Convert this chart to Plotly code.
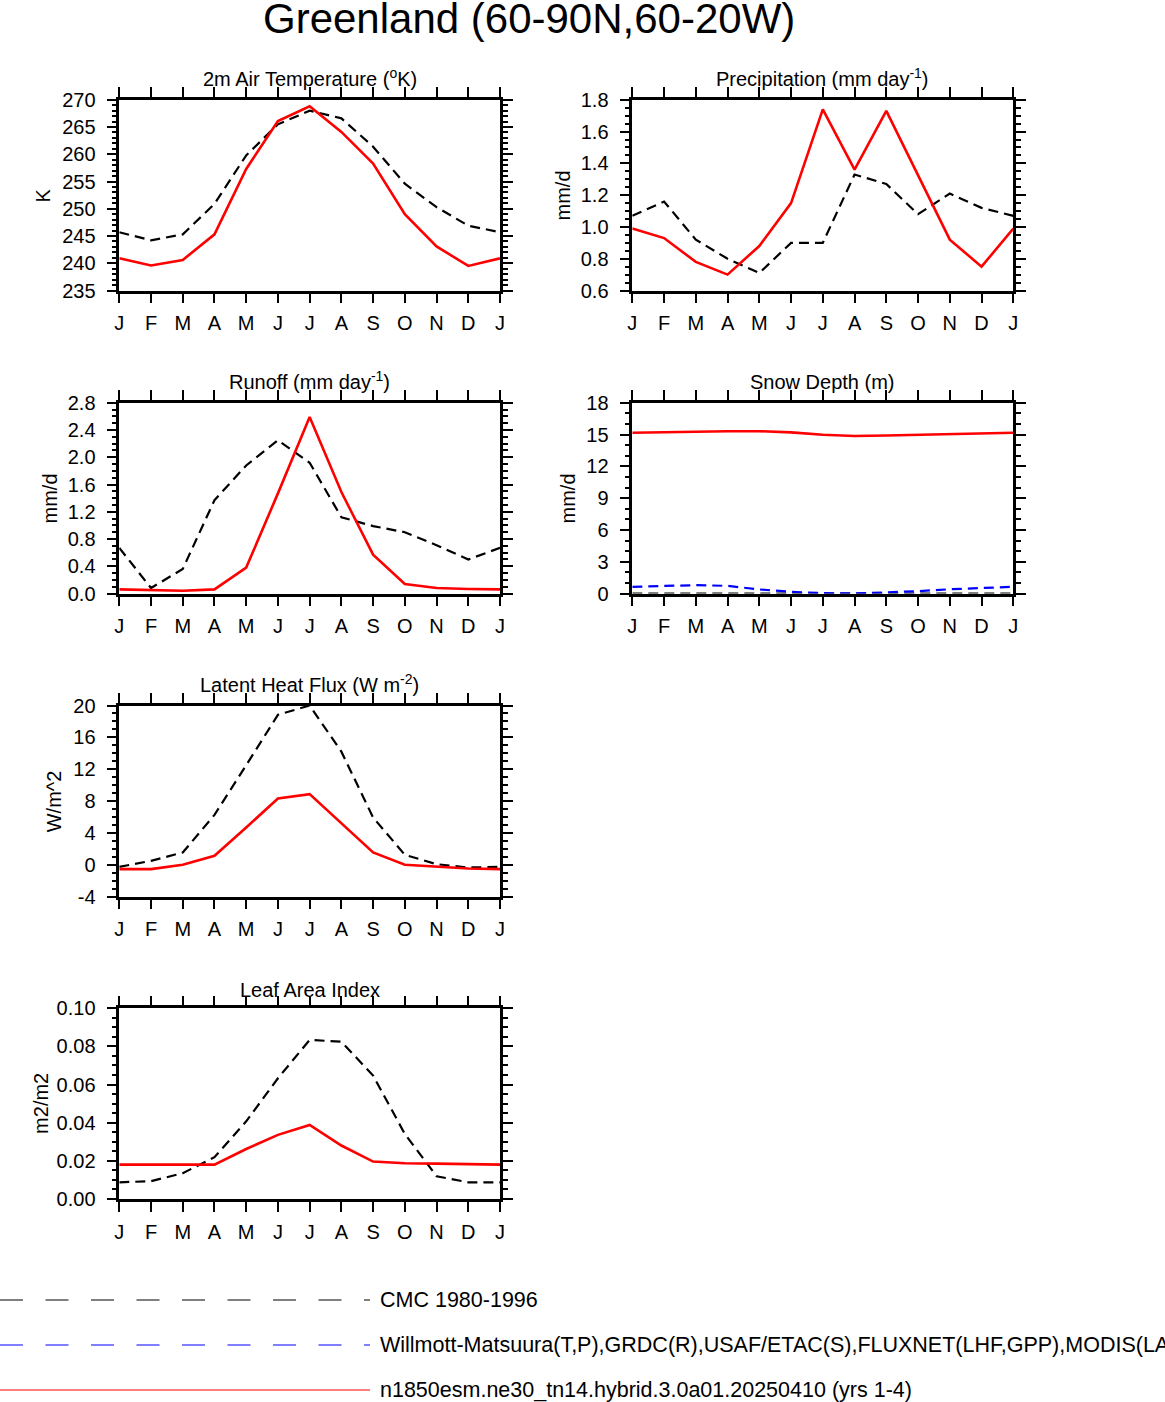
import plotly.graph_objects as go
from plotly.subplots import make_subplots

# month axis
months = ["J", "F", "M", "A", "M", "J", "J", "A", "S", "O", "N", "D", "J"]
month_pos = list(range(13))

# 2m air temperature (K)
tsa_model = [240.9, 239.6, 240.6, 245.3, 257.3, 266.1, 268.8, 264.1, 258.3, 249.0, 243.1, 239.5, 240.9]
tsa_obs = [245.7, 244.2, 245.3, 250.9, 259.8, 265.5, 268.0, 266.6, 261.4, 254.6, 250.3, 246.9, 245.7]
tsa_ticks = [235, 240, 245, 250, 255, 260, 265, 270]

# precipitation (mm/d)
prec_model = [0.99, 0.93, 0.78, 0.70, 0.88, 1.15, 1.74, 1.36, 1.73, 1.33, 0.92, 0.75, 0.99]
prec_obs = [1.07, 1.16, 0.92, 0.80, 0.71, 0.90, 0.90, 1.33, 1.27, 1.08, 1.21, 1.12, 1.07]
prec_ticks = [0.6, 0.8, 1.0, 1.2, 1.4, 1.6, 1.8]

# runoff (mm/d)
runoff_model = [0.06, 0.05, 0.04, 0.06, 0.38, 1.47, 2.59, 1.49, 0.57, 0.14, 0.08, 0.065, 0.06]
runoff_obs = [0.67, 0.08, 0.36, 1.37, 1.88, 2.25, 1.92, 1.12, 0.99, 0.90, 0.71, 0.50, 0.67]
runoff_ticks = [0.0, 0.4, 0.8, 1.2, 1.6, 2.0, 2.4, 2.8]

# snow depth (m)
snow_model = [15.18, 15.24, 15.27, 15.32, 15.32, 15.21, 14.99, 14.86, 14.92, 14.99, 15.05, 15.11, 15.18]
snow_obs = [0.63, 0.70, 0.79, 0.72, 0.38, 0.16, 0.04, 0.0, 0.10, 0.22, 0.40, 0.52, 0.63]
snow_cmc = [0.0, 0.0, 0.0, 0.0, 0.0, 0.0, 0.0, 0.0, 0.0, 0.0, 0.0, 0.0, 0.0]
snow_ticks = [0, 3, 6, 9, 12, 15, 18]

# latent heat flux (W/m^2)
lhf_model = [-0.56, -0.56, -0.02, 1.11, 4.67, 8.31, 8.86, 5.21, 1.53, -0.02, -0.27, -0.48, -0.56]
lhf_obs = [-0.27, 0.48, 1.53, 6.26, 12.5, 18.83, 20.0, 14.2, 5.93, 1.24, 0.06, -0.36, -0.27]
lhf_ticks = [-4, 0, 4, 8, 12, 16, 20]

# leaf area index (m2/m2)
lai_model = [0.0180, 0.0180, 0.0178, 0.0180, 0.0262, 0.0336, 0.0388, 0.0280, 0.0196, 0.0187, 0.0185, 0.0182, 0.0180]
lai_obs = [0.0087, 0.0093, 0.0135, 0.0219, 0.0407, 0.0633, 0.0834, 0.0825, 0.0647, 0.0341, 0.0119, 0.0087, 0.0087]
lai_ticks = [0.00, 0.02, 0.04, 0.06, 0.08, 0.10]

legend_names = [
    "CMC 1980-1996",
    "Willmott-Matsuura(T,P),GRDC(R),USAF/ETAC(S),FLUXNET(LHF,GPP),MODIS(LAI)",
    "n1850esm.ne30_tn14.hybrid.3.0a01.20250410 (yrs 1-4)",
]

FONT = "Liberation Sans, Arial, Helvetica, sans-serif"

W, H = 1165, 1402


def px(x):
    return x / W


def py(y):
    return 1 - y / H


panels = [
    dict(title="2m Air Temperature (<sup>o</sup>K)", ytitle="K", model=tsa_model,
         obs=[(tsa_obs, "black")], ticks=tsa_ticks, fmt="{:d}", minor=1, tshift=22, yshift_title=-76),
    dict(title="Precipitation (mm day<sup>-1</sup>)", ytitle="mm/d", model=prec_model,
         obs=[(prec_obs, "black")], ticks=prec_ticks, fmt="{:.1f}", minor=0.05, tshift=22, yshift_title=-69),
    dict(title="Runoff (mm day<sup>-1</sup>)", ytitle="mm/d", model=runoff_model,
         obs=[(runoff_obs, "black")], ticks=runoff_ticks, fmt="{:.1f}", minor=0.1, tshift=22, yshift_title=-69),
    dict(title="Snow Depth (m)", ytitle="mm/d", model=snow_model,
         obs=[(snow_cmc, "black"), (snow_obs, "blue")], ticks=snow_ticks, fmt="{:d}", minor=1, tshift=21, yshift_title=-64),
    dict(title="Latent Heat Flux (W m<sup>-2</sup>)", ytitle="W/m^2", model=lhf_model,
         obs=[(lhf_obs, "black")], ticks=lhf_ticks, fmt="{:d}", minor=1, tshift=22, yshift_title=-65),
    dict(title="Leaf Area Index", ytitle="m2/m2", model=lai_model,
         obs=[(lai_obs, "black")], ticks=lai_ticks, fmt="{:.2f}", minor=0.005, tshift=18, yshift_title=-79),
]

cells = [(1, 1), (1, 2), (2, 1), (2, 2), (3, 1), (4, 1)]
x_domains = {1: [px(119.3), px(500.0)], 2: [px(632.3), px(1013.3)]}
y_domains = {1: [py(290.5), py(99.8)], 2: [py(593.5), py(402.8)],
             3: [py(896.5), py(705.5)], 4: [py(1198.9), py(1008.3)]}

fig = make_subplots(rows=4, cols=2, specs=[[{}, {}], [{}, {}], [{}, None], [{}, None]])

annotations = []
for n, (p, (r, c)) in enumerate(zip(panels, cells), start=1):
    for vals, col in p["obs"]:
        fig.add_trace(go.Scatter(x=month_pos, y=vals, mode="lines",
                                 line=dict(color=col, width=2.2, dash="10px,6px"),
                                 showlegend=False), row=r, col=c)
    fig.add_trace(go.Scatter(x=month_pos, y=p["model"], mode="lines",
                             line=dict(color="red", width=2.6), showlegend=False), row=r, col=c)

    sfx = "" if n == 1 else str(n)
    fig.update_layout({
        "xaxis" + sfx: dict(domain=x_domains[c], range=[0, 12], tickmode="array",
                            tickvals=month_pos, ticktext=months, ticks="outside",
                            ticklen=10, tickwidth=2, tickcolor="black",
                            showline=True, linewidth=2.5, linecolor="black", mirror="ticks",
                            showgrid=False, zeroline=False, ticklabelstandoff=3,
                            tickfont=dict(size=20, family=FONT, color="black")),
        "yaxis" + sfx: dict(domain=y_domains[r], range=[p["ticks"][0], p["ticks"][-1]],
                            tickmode="array", tickvals=p["ticks"],
                            ticktext=[p["fmt"].format(v) for v in p["ticks"]],
                            ticks="outside", ticklen=10, tickwidth=2, tickcolor="black",
                            minor=dict(tick0=p["ticks"][0], dtick=p["minor"], ticks="outside",
                                       ticklen=5, tickwidth=1.5, tickcolor="black", showgrid=False),
                            showline=True, linewidth=2.5, linecolor="black", mirror="ticks",
                            showgrid=False, zeroline=False, ticklabelstandoff=7,
                            tickfont=dict(size=20, family=FONT, color="black")),
    })
    xr = "x domain" if n == 1 else f"x{n} domain"
    yr = "y domain" if n == 1 else f"y{n} domain"
    annotations.append(dict(text=p["title"], xref=xr, yref=yr, x=0.5, y=1, yshift=p["tshift"],
                            xanchor="center", yanchor="middle", showarrow=False,
                            font=dict(size=20, family=FONT, color="black")))
    annotations.append(dict(text=p["ytitle"], xref=xr, yref=yr, x=0, y=0.5, xshift=p["yshift_title"],
                            textangle=-90, xanchor="center", yanchor="middle", showarrow=False,
                            font=dict(size=20, family=FONT, color="black")))

# main title
annotations.append(dict(text="Greenland (60-90N,60-20W)", xref="paper", yref="paper",
                        x=px(529), y=py(19), xanchor="center", yanchor="middle",
                        showarrow=False, font=dict(size=42, family=FONT, color="black")))

# legend at the bottom (drawn by hand like NCL's)
shapes = []
legend_style = [("black", "23px,22.5px"), ("blue", "23px,22.5px"), ("red", "solid")]
legend_y = [1300, 1345, 1390]
for name, (col, dash), ly in zip(legend_names, legend_style, legend_y):
    shapes.append(dict(type="line", xref="paper", yref="paper", x0=px(0), x1=px(370),
                       y0=py(ly), y1=py(ly), line=dict(color=col, width=1.2, dash=dash)))
    annotations.append(dict(text=name, xref="paper", yref="paper", x=px(378), y=py(ly),
                            xanchor="left", yanchor="middle", showarrow=False,
                            font=dict(size=21.5, family=FONT, color="black")))

fig.update_layout(
    width=W, height=H, template="none",
    margin=dict(l=0, r=0, t=0, b=0),
    paper_bgcolor="white", plot_bgcolor="white",
    annotations=annotations, shapes=shapes, showlegend=False,
    font=dict(family=FONT, color="black"),
)

# drop the default body margin so the figure fills the window from its corner
fig.write_html("out.html", config={"displayModeBar": False},
               post_script="document.body.style.margin = '0';")
